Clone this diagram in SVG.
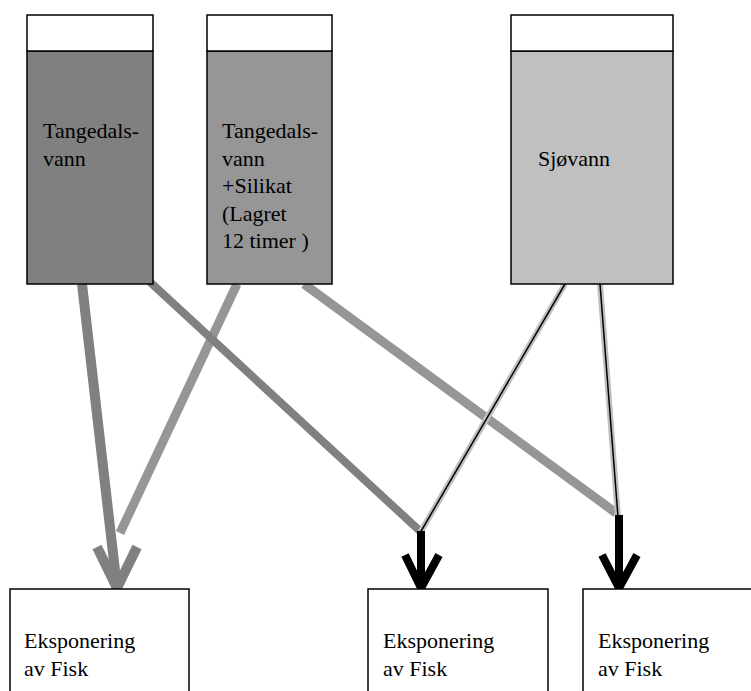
<svg xmlns="http://www.w3.org/2000/svg" width="751" height="691" viewBox="0 0 751 691" font-family="'Liberation Serif', 'Times New Roman', Times, 'DejaVu Serif', serif" font-size="22">
<style>
.box{stroke:#000;stroke-width:1.5}
.lid{fill:#fff;stroke:#000;stroke-width:1.5}
</style>
<rect width="751" height="691" fill="#fff"/>
<g id="connectors" fill="none">
<line x1="237" y1="284" x2="120" y2="533" stroke="#969696" stroke-width="9"/>
<line x1="150" y1="282" x2="421" y2="532" stroke="#808080" stroke-width="8"/>
<line x1="82" y1="284" x2="117" y2="588" stroke="#808080" stroke-width="10"/>
<polyline points="97,547 117,588 137,547" stroke="#808080" stroke-width="10" stroke-linejoin="round"/>
<line x1="304" y1="284" x2="616" y2="513" stroke="#969696" stroke-width="9"/>
<line x1="565" y1="284" x2="420" y2="533" stroke="#c0c0c0" stroke-width="6"/>
<line x1="565" y1="284" x2="420" y2="533" stroke="#000" stroke-width="1.5"/>
<line x1="600" y1="284" x2="618" y2="517" stroke="#c0c0c0" stroke-width="6"/>
<line x1="600" y1="284" x2="618" y2="517" stroke="#000" stroke-width="1.5"/>
<line x1="421" y1="531" x2="421" y2="588" stroke="#000" stroke-width="8"/>
<polyline points="405,555 421,588 439,555" stroke="#000" stroke-width="8" stroke-linejoin="round"/>
<line x1="619" y1="515" x2="619" y2="588" stroke="#000" stroke-width="8"/>
<polyline points="602,555 619,588 637,555" stroke="#000" stroke-width="8" stroke-linejoin="round"/>
</g>
<g id="tank1">
<rect class="box" x="27" y="51" width="126" height="233" fill="#808080"/>
<rect class="lid" x="27" y="15" width="126" height="36"/>
<text x="43" y="138">Tangedals-</text>
<text x="43" y="166">vann</text>
</g>
<g id="tank2">
<rect class="box" x="207" y="51" width="125" height="233" fill="#969696"/>
<rect class="lid" x="207" y="15" width="125" height="36"/>
<text x="222" y="138">Tangedals-</text>
<text x="222" y="166">vann</text>
<text x="222" y="193">+Silikat</text>
<text x="222" y="221">(Lagret</text>
<text x="222" y="248">12 timer )</text>
</g>
<g id="tank3">
<rect class="box" x="511" y="51" width="162" height="233" fill="#c0c0c0"/>
<rect class="lid" x="511" y="15" width="162" height="36"/>
<text x="538" y="166">Sjøvann</text>
</g>
<g id="fish1">
<rect class="box" x="10" y="589" width="179" height="110" fill="#fff"/>
<text x="24" y="648">Eksponering</text>
<text x="24" y="676">av Fisk</text>
</g>
<g id="fish2">
<rect class="box" x="368" y="589" width="180" height="110" fill="#fff"/>
<text x="383" y="648">Eksponering</text>
<text x="383" y="676">av Fisk</text>
</g>
<g id="fish3">
<rect class="box" x="583" y="589" width="180" height="110" fill="#fff"/>
<text x="598" y="648">Eksponering</text>
<text x="598" y="676">av Fisk</text>
</g>
</svg>
